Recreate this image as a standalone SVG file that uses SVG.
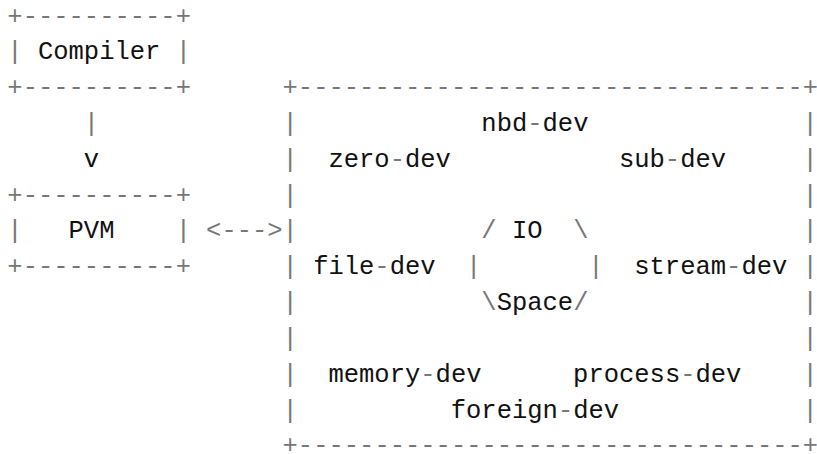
<svg xmlns="http://www.w3.org/2000/svg" width="817" height="454" viewBox="0 0 817 454" xml:space="preserve">
<style>
.t{font-family:"Liberation Mono","DejaVu Sans Mono",monospace;font-size:25.5px;white-space:pre;fill:#111}
.p{fill:#777}
</style>
<rect width="817" height="454" fill="#fff"/>
<g id="compiler">
<text class="t p" x="7.35" y="23.5">+----------+</text>
<text class="t" x="7.35" y="59.33"><tspan class="p">|</tspan> Compiler <tspan class="p">|</tspan></text>
<text class="t p" x="7.35" y="95.16">+----------+</text>
</g>
<g id="pvm">
<text class="t p" x="7.35" y="202.65">+----------+</text>
<text class="t" x="7.35" y="238.48"><tspan class="p">|</tspan>   PVM    <tspan class="p">|</tspan></text>
<text class="t p" x="7.35" y="274.31">+----------+</text>
</g>
<g id="connectors">
<text class="t p" x="83.8" y="130.99">|</text>
<text class="t" x="83.8" y="166.82">v</text>
<text class="t p" x="206.12" y="238.48">&lt;---&gt;</text>
</g>
<g id="io-box">
<text class="t p" x="282.57" y="95.16">+---------------------------------+</text>
<g class="t p">
<text x="282.57" y="130.99">|</text><text x="802.43" y="130.99">|</text>
<text x="282.57" y="166.82">|</text><text x="802.43" y="166.82">|</text>
<text x="282.57" y="202.65">|</text><text x="802.43" y="202.65">|</text>
<text x="282.57" y="238.48">|</text><text x="802.43" y="238.48">|</text>
<text x="282.57" y="274.31">|</text><text x="802.43" y="274.31">|</text>
<text x="282.57" y="310.14">|</text><text x="802.43" y="310.14">|</text>
<text x="282.57" y="345.97">|</text><text x="802.43" y="345.97">|</text>
<text x="282.57" y="381.8">|</text><text x="802.43" y="381.8">|</text>
<text x="282.57" y="417.63">|</text><text x="802.43" y="417.63">|</text>
</g>
<text class="t p" x="282.57" y="453.46">+---------------------------------+</text>
</g>
<g id="nbd-dev"><text class="t" x="481.34" y="130.99">nbd<tspan class="p">-</tspan>dev</text></g>
<g id="zero-dev"><text class="t" x="328.44" y="166.82">zero<tspan class="p">-</tspan>dev</text></g>
<g id="sub-dev"><text class="t" x="618.95" y="166.82">sub<tspan class="p">-</tspan>dev</text></g>
<g id="io-space">
<text class="t" x="481.34" y="238.48"><tspan class="p">/</tspan> IO  <tspan class="p">\</tspan></text>
<text class="t p" x="466.05" y="274.31">|</text>
<text class="t p" x="588.37" y="274.31">|</text>
<text class="t" x="481.34" y="310.14"><tspan class="p">\</tspan>Space<tspan class="p">/</tspan></text>
</g>
<g id="file-dev"><text class="t" x="313.15" y="274.31">file<tspan class="p">-</tspan>dev</text></g>
<g id="stream-dev"><text class="t" x="634.24" y="274.31">stream<tspan class="p">-</tspan>dev</text></g>
<g id="memory-dev"><text class="t" x="328.44" y="381.8">memory<tspan class="p">-</tspan>dev</text></g>
<g id="process-dev"><text class="t" x="573.08" y="381.8">process<tspan class="p">-</tspan>dev</text></g>
<g id="foreign-dev"><text class="t" x="450.76" y="417.63">foreign<tspan class="p">-</tspan>dev</text></g>
</svg>
